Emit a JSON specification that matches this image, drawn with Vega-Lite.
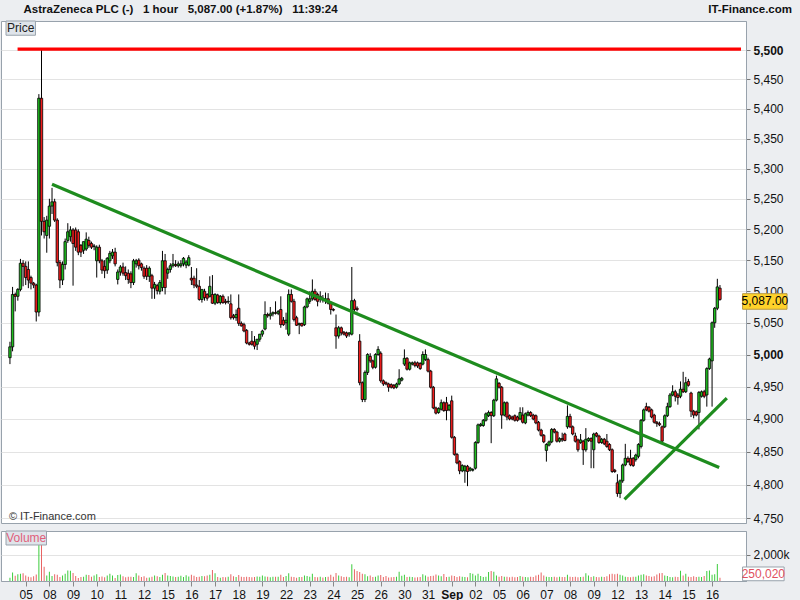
{
"$schema":"https://vega.github.io/schema/vega-lite/v6.json",
"background":"#eceef1",
"padding":{"left":0,"right":0,"top":3,"bottom":0},
"spacing":5,
"title":{"text":"AstraZeneca PLC (-)\u00a0\u00a0\u00a01 hour\u00a0\u00a0\u00a05,087.00 (+1.87%)\u00a0\u00a0\u00a011:39:24\u00a0\u00a0\u00a0\u00a0\u00a0\u00a0\u00a0\u00a0\u00a0\u00a0\u00a0\u00a0\u00a0\u00a0\u00a0\u00a0\u00a0\u00a0\u00a0\u00a0\u00a0\u00a0\u00a0\u00a0\u00a0\u00a0\u00a0\u00a0\u00a0\u00a0\u00a0\u00a0\u00a0\u00a0\u00a0\u00a0\u00a0\u00a0\u00a0\u00a0\u00a0\u00a0\u00a0\u00a0\u00a0\u00a0\u00a0\u00a0\u00a0\u00a0\u00a0\u00a0\u00a0\u00a0\u00a0\u00a0\u00a0\u00a0\u00a0\u00a0\u00a0\u00a0\u00a0\u00a0\u00a0\u00a0\u00a0\u00a0\u00a0\u00a0\u00a0\u00a0\u00a0\u00a0\u00a0\u00a0\u00a0\u00a0\u00a0\u00a0\u00a0\u00a0\u00a0\u00a0\u00a0\u00a0\u00a0\u00a0\u00a0\u00a0\u00a0\u00a0\u00a0\u00a0\u00a0\u00a0\u00a0\u00a0\u00a0\u00a0\u00a0\u00a0\u00a0\u00a0\u00a0\u00a0\u00a0\u00a0\u00a0\u00a0\u00a0\u00a0\u00a0\u00a0\u00a0\u00a0IT-Finance.com","anchor":"start","frame":"bounds","font":"Liberation Sans","fontSize":11.5,"fontWeight":"bold","color":"#111","offset":5,"dx":23},
"datasets":{
"candles":[
{"i":0,"o":4995,"h":5020,"l":4985,"c":5012,"v":250},
{"i":1,"o":5012,"h":5107,"l":5005,"c":5095,"v":650},
{"i":2,"o":5095,"h":5098,"l":5068,"c":5092,"v":400},
{"i":3,"o":5092,"h":5105,"l":5085,"c":5103,"v":520},
{"i":4,"o":5103,"h":5152,"l":5100,"c":5145,"v":560},
{"i":5,"o":5145,"h":5150,"l":5108,"c":5140,"v":600},
{"i":6,"o":5140,"h":5148,"l":5110,"c":5122,"v":420},
{"i":7,"o":5135,"h":5148,"l":5105,"c":5118,"v":330},
{"i":8,"o":5122,"h":5125,"l":5103,"c":5113,"v":280},
{"i":9,"o":5113,"h":5115,"l":5105,"c":5110,"v":360},
{"i":10,"o":5110,"h":5112,"l":5052,"c":5067,"v":500},
{"i":11,"o":5067,"h":5425,"l":5060,"c":5418,"v":3600},
{"i":12,"o":5418,"h":5502,"l":5190,"c":5213,"v":3300},
{"i":13,"o":5213,"h":5220,"l":5185,"c":5196,"v":1100},
{"i":14,"o":5190,"h":5222,"l":5162,"c":5215,"v":420},
{"i":15,"o":5205,"h":5250,"l":5185,"c":5238,"v":720},
{"i":16,"o":5238,"h":5268,"l":5225,"c":5245,"v":380},
{"i":17,"o":5245,"h":5250,"l":5212,"c":5215,"v":520},
{"i":18,"o":5215,"h":5218,"l":5140,"c":5146,"v":480},
{"i":19,"o":5146,"h":5150,"l":5105,"c":5118,"v":300},
{"i":20,"o":5118,"h":5148,"l":5110,"c":5143,"v":430},
{"i":21,"o":5143,"h":5185,"l":5135,"c":5180,"v":560},
{"i":22,"o":5182,"h":5210,"l":5178,"c":5196,"v":800},
{"i":23,"o":5188,"h":5205,"l":5180,"c":5199,"v":780},
{"i":24,"o":5199,"h":5202,"l":5109,"c":5177,"v":620},
{"i":25,"o":5199,"h":5203,"l":5165,"c":5171,"v":380},
{"i":26,"o":5196,"h":5200,"l":5158,"c":5163,"v":240},
{"i":27,"o":5174,"h":5176,"l":5155,"c":5163,"v":300},
{"i":28,"o":5166,"h":5180,"l":5160,"c":5180,"v":320},
{"i":29,"o":5168,"h":5195,"l":5165,"c":5184,"v":480},
{"i":30,"o":5182,"h":5188,"l":5170,"c":5174,"v":460},
{"i":31,"o":5177,"h":5180,"l":5168,"c":5171,"v":330},
{"i":32,"o":5172,"h":5176,"l":5166,"c":5173,"v":420},
{"i":33,"o":5149,"h":5174,"l":5122,"c":5171,"v":520},
{"i":34,"o":5171,"h":5175,"l":5145,"c":5149,"v":300},
{"i":35,"o":5149,"h":5152,"l":5128,"c":5134,"v":340},
{"i":36,"o":5140,"h":5150,"l":5121,"c":5133,"v":280},
{"i":37,"o":5134,"h":5155,"l":5128,"c":5153,"v":430},
{"i":38,"o":5149,"h":5165,"l":5145,"c":5161,"v":560},
{"i":39,"o":5157,"h":5168,"l":5152,"c":5163,"v":420},
{"i":40,"o":5163,"h":5170,"l":5140,"c":5144,"v":240},
{"i":41,"o":5119,"h":5135,"l":5111,"c":5131,"v":460},
{"i":42,"o":5131,"h":5142,"l":5125,"c":5139,"v":500},
{"i":43,"o":5139,"h":5146,"l":5125,"c":5129,"v":360},
{"i":44,"o":5130,"h":5140,"l":5118,"c":5125,"v":290},
{"i":45,"o":5129,"h":5135,"l":5112,"c":5119,"v":330},
{"i":46,"o":5128,"h":5132,"l":5105,"c":5114,"v":330},
{"i":47,"o":5114,"h":5152,"l":5110,"c":5149,"v":300},
{"i":48,"o":5144,"h":5152,"l":5138,"c":5149,"v":600},
{"i":49,"o":5150,"h":5153,"l":5135,"c":5141,"v":420},
{"i":50,"o":5144,"h":5146,"l":5133,"c":5138,"v":310},
{"i":51,"o":5137,"h":5140,"l":5120,"c":5124,"v":370},
{"i":52,"o":5137,"h":5142,"l":5118,"c":5124,"v":250},
{"i":53,"o":5124,"h":5140,"l":5115,"c":5137,"v":260},
{"i":54,"o":5125,"h":5128,"l":5088,"c":5105,"v":330},
{"i":55,"o":5105,"h":5115,"l":5088,"c":5111,"v":420},
{"i":56,"o":5109,"h":5112,"l":5095,"c":5101,"v":360},
{"i":57,"o":5100,"h":5118,"l":5095,"c":5114,"v":300},
{"i":58,"o":5106,"h":5165,"l":5100,"c":5149,"v":490},
{"i":59,"o":5149,"h":5160,"l":5095,"c":5106,"v":620},
{"i":60,"o":5129,"h":5138,"l":5120,"c":5135,"v":430},
{"i":61,"o":5135,"h":5145,"l":5130,"c":5141,"v":390},
{"i":62,"o":5141,"h":5160,"l":5138,"c":5144,"v":350},
{"i":63,"o":5143,"h":5150,"l":5139,"c":5141,"v":300},
{"i":64,"o":5141,"h":5148,"l":5138,"c":5144,"v":330},
{"i":65,"o":5141,"h":5150,"l":5138,"c":5144,"v":400},
{"i":66,"o":5144,"h":5155,"l":5140,"c":5153,"v":300},
{"i":67,"o":5142,"h":5150,"l":5137,"c":5147,"v":440},
{"i":68,"o":5142,"h":5158,"l":5140,"c":5154,"v":350},
{"i":69,"o":5121,"h":5139,"l":5110,"c":5118,"v":480},
{"i":70,"o":5121,"h":5125,"l":5105,"c":5110,"v":400},
{"i":71,"o":5110,"h":5137,"l":5105,"c":5108,"v":300},
{"i":72,"o":5108,"h":5118,"l":5085,"c":5087,"v":330},
{"i":73,"o":5087,"h":5095,"l":5082,"c":5103,"v":390},
{"i":74,"o":5100,"h":5104,"l":5085,"c":5090,"v":360},
{"i":75,"o":5095,"h":5097,"l":5085,"c":5089,"v":420},
{"i":76,"o":5092,"h":5124,"l":5090,"c":5108,"v":480},
{"i":77,"o":5095,"h":5126,"l":5080,"c":5081,"v":850},
{"i":78,"o":5081,"h":5097,"l":5078,"c":5095,"v":600},
{"i":79,"o":5094,"h":5096,"l":5080,"c":5082,"v":300},
{"i":80,"o":5082,"h":5094,"l":5079,"c":5092,"v":250},
{"i":81,"o":5092,"h":5095,"l":5080,"c":5082,"v":300},
{"i":82,"o":5084,"h":5088,"l":5079,"c":5082,"v":280},
{"i":83,"o":5083,"h":5092,"l":5080,"c":5084,"v":330},
{"i":84,"o":5080,"h":5095,"l":5055,"c":5058,"v":520},
{"i":85,"o":5061,"h":5064,"l":5055,"c":5058,"v":360},
{"i":86,"o":5058,"h":5071,"l":5053,"c":5063,"v":300},
{"i":87,"o":5073,"h":5095,"l":5045,"c":5049,"v":460},
{"i":88,"o":5049,"h":5052,"l":5044,"c":5045,"v":330},
{"i":89,"o":5047,"h":5050,"l":5035,"c":5037,"v":300},
{"i":90,"o":5038,"h":5040,"l":5016,"c":5018,"v":320},
{"i":91,"o":5018,"h":5020,"l":5014,"c":5016,"v":300},
{"i":92,"o":5021,"h":5037,"l":5014,"c":5016,"v":280},
{"i":93,"o":5020,"h":5029,"l":5008,"c":5013,"v":300},
{"i":94,"o":5016,"h":5024,"l":5007,"c":5024,"v":350},
{"i":95,"o":5024,"h":5032,"l":5020,"c":5032,"v":330},
{"i":96,"o":5032,"h":5039,"l":5028,"c":5037,"v":420},
{"i":97,"o":5040,"h":5084,"l":5038,"c":5063,"v":350},
{"i":98,"o":5063,"h":5066,"l":5058,"c":5061,"v":330},
{"i":99,"o":5061,"h":5075,"l":5055,"c":5064,"v":290},
{"i":100,"o":5064,"h":5068,"l":5060,"c":5066,"v":320},
{"i":101,"o":5066,"h":5084,"l":5063,"c":5065,"v":330},
{"i":102,"o":5065,"h":5070,"l":5062,"c":5068,"v":320},
{"i":103,"o":5071,"h":5092,"l":5042,"c":5047,"v":480},
{"i":104,"o":5054,"h":5059,"l":5045,"c":5047,"v":300},
{"i":105,"o":5050,"h":5066,"l":5039,"c":5054,"v":380},
{"i":106,"o":5032,"h":5103,"l":5029,"c":5095,"v":600},
{"i":107,"o":5095,"h":5103,"l":5082,"c":5084,"v":330},
{"i":108,"o":5084,"h":5088,"l":5052,"c":5055,"v":300},
{"i":109,"o":5058,"h":5061,"l":5045,"c":5046,"v":250},
{"i":110,"o":5047,"h":5050,"l":5032,"c":5049,"v":300},
{"i":111,"o":5049,"h":5050,"l":5044,"c":5045,"v":300},
{"i":112,"o":5047,"h":5077,"l":5045,"c":5075,"v":420},
{"i":113,"o":5075,"h":5090,"l":5073,"c":5088,"v":380},
{"i":114,"o":5084,"h":5100,"l":5080,"c":5088,"v":330},
{"i":115,"o":5088,"h":5119,"l":5085,"c":5100,"v":550},
{"i":116,"o":5100,"h":5104,"l":5085,"c":5087,"v":300},
{"i":117,"o":5095,"h":5098,"l":5076,"c":5084,"v":280},
{"i":118,"o":5087,"h":5100,"l":5082,"c":5092,"v":320},
{"i":119,"o":5089,"h":5094,"l":5082,"c":5086,"v":260},
{"i":120,"o":5086,"h":5098,"l":5080,"c":5088,"v":300},
{"i":121,"o":5088,"h":5097,"l":5079,"c":5081,"v":330},
{"i":122,"o":5082,"h":5084,"l":5063,"c":5071,"v":480},
{"i":123,"o":5071,"h":5073,"l":5068,"c":5070,"v":320},
{"i":124,"o":5042,"h":5063,"l":5009,"c":5029,"v":620},
{"i":125,"o":5029,"h":5045,"l":5025,"c":5042,"v":420},
{"i":126,"o":5042,"h":5044,"l":5030,"c":5034,"v":360},
{"i":127,"o":5035,"h":5037,"l":5030,"c":5032,"v":300},
{"i":128,"o":5034,"h":5036,"l":5026,"c":5029,"v":330},
{"i":129,"o":5032,"h":5035,"l":5028,"c":5034,"v":280},
{"i":130,"o":5032,"h":5139,"l":5030,"c":5085,"v":1280},
{"i":131,"o":5085,"h":5088,"l":5068,"c":5071,"v":900},
{"i":132,"o":5073,"h":5076,"l":5068,"c":5071,"v":760},
{"i":133,"o":5021,"h":5032,"l":4952,"c":4956,"v":700},
{"i":134,"o":4956,"h":4958,"l":4926,"c":4930,"v":560},
{"i":135,"o":4930,"h":4975,"l":4926,"c":4972,"v":520},
{"i":136,"o":4972,"h":5002,"l":4968,"c":5000,"v":360},
{"i":137,"o":4997,"h":5002,"l":4987,"c":4990,"v":430},
{"i":138,"o":4990,"h":4992,"l":4977,"c":4980,"v":300},
{"i":139,"o":4980,"h":5002,"l":4978,"c":5000,"v":330},
{"i":140,"o":5000,"h":5013,"l":4998,"c":5008,"v":420},
{"i":141,"o":5002,"h":5005,"l":4956,"c":4959,"v":460},
{"i":142,"o":4959,"h":4961,"l":4951,"c":4954,"v":300},
{"i":143,"o":4956,"h":4958,"l":4952,"c":4954,"v":380},
{"i":144,"o":4954,"h":4956,"l":4942,"c":4949,"v":260},
{"i":145,"o":4953,"h":4955,"l":4947,"c":4949,"v":280},
{"i":146,"o":4952,"h":4954,"l":4946,"c":4948,"v":300},
{"i":147,"o":4949,"h":4956,"l":4947,"c":4954,"v":330},
{"i":148,"o":4954,"h":4977,"l":4952,"c":4962,"v":720},
{"i":149,"o":4960,"h":4965,"l":4958,"c":4963,"v":400},
{"i":150,"o":4985,"h":5008,"l":4982,"c":4994,"v":480},
{"i":151,"o":4994,"h":4996,"l":4975,"c":4977,"v":300},
{"i":152,"o":4977,"h":4989,"l":4975,"c":4987,"v":330},
{"i":153,"o":4985,"h":4989,"l":4983,"c":4987,"v":300},
{"i":154,"o":4987,"h":4990,"l":4980,"c":4983,"v":260},
{"i":155,"o":4987,"h":4989,"l":4979,"c":4982,"v":280},
{"i":156,"o":4986,"h":4988,"l":4976,"c":4978,"v":300},
{"i":157,"o":4985,"h":5005,"l":4983,"c":5000,"v":520},
{"i":158,"o":4992,"h":5008,"l":4990,"c":5000,"v":420},
{"i":159,"o":4992,"h":4995,"l":4972,"c":4974,"v":330},
{"i":160,"o":4974,"h":4976,"l":4947,"c":4949,"v":380},
{"i":161,"o":4949,"h":4951,"l":4915,"c":4917,"v":400},
{"i":162,"o":4917,"h":4919,"l":4907,"c":4909,"v":500},
{"i":163,"o":4910,"h":4918,"l":4908,"c":4916,"v":420},
{"i":164,"o":4915,"h":4930,"l":4913,"c":4925,"v":360},
{"i":165,"o":4925,"h":4927,"l":4911,"c":4913,"v":540},
{"i":166,"o":4925,"h":4934,"l":4898,"c":4913,"v":300},
{"i":167,"o":4914,"h":4923,"l":4912,"c":4921,"v":330},
{"i":168,"o":4928,"h":4936,"l":4870,"c":4872,"v":420},
{"i":169,"o":4872,"h":4874,"l":4844,"c":4846,"v":380},
{"i":170,"o":4846,"h":4848,"l":4831,"c":4833,"v":300},
{"i":171,"o":4835,"h":4837,"l":4816,"c":4821,"v":360},
{"i":172,"o":4821,"h":4831,"l":4819,"c":4829,"v":330},
{"i":173,"o":4821,"h":4830,"l":4803,"c":4828,"v":300},
{"i":174,"o":4828,"h":4830,"l":4798,"c":4820,"v":280},
{"i":175,"o":4822,"h":4827,"l":4820,"c":4825,"v":620},
{"i":176,"o":4822,"h":4825,"l":4820,"c":4823,"v":560},
{"i":177,"o":4825,"h":4866,"l":4823,"c":4864,"v":420},
{"i":178,"o":4864,"h":4893,"l":4862,"c":4891,"v":560},
{"i":179,"o":4890,"h":4894,"l":4888,"c":4892,"v":380},
{"i":180,"o":4890,"h":4900,"l":4888,"c":4898,"v":300},
{"i":181,"o":4898,"h":4910,"l":4896,"c":4908,"v":330},
{"i":182,"o":4905,"h":4913,"l":4903,"c":4910,"v":700},
{"i":183,"o":4910,"h":4912,"l":4863,"c":4905,"v":760},
{"i":184,"o":4905,"h":4931,"l":4903,"c":4929,"v":720},
{"i":185,"o":4929,"h":4967,"l":4927,"c":4962,"v":420},
{"i":186,"o":4955,"h":4957,"l":4947,"c":4949,"v":330},
{"i":187,"o":4949,"h":4951,"l":4885,"c":4906,"v":380},
{"i":188,"o":4906,"h":4927,"l":4904,"c":4925,"v":330},
{"i":189,"o":4925,"h":4927,"l":4898,"c":4903,"v":320},
{"i":190,"o":4905,"h":4907,"l":4898,"c":4900,"v":280},
{"i":191,"o":4903,"h":4905,"l":4898,"c":4900,"v":330},
{"i":192,"o":4905,"h":4907,"l":4896,"c":4898,"v":280},
{"i":193,"o":4903,"h":4905,"l":4896,"c":4898,"v":300},
{"i":194,"o":4900,"h":4918,"l":4898,"c":4910,"v":380},
{"i":195,"o":4906,"h":4918,"l":4893,"c":4895,"v":330},
{"i":196,"o":4894,"h":4910,"l":4892,"c":4908,"v":300},
{"i":197,"o":4906,"h":4913,"l":4904,"c":4910,"v":280},
{"i":198,"o":4910,"h":4912,"l":4903,"c":4905,"v":320},
{"i":199,"o":4906,"h":4908,"l":4898,"c":4900,"v":300},
{"i":200,"o":4905,"h":4907,"l":4892,"c":4894,"v":420},
{"i":201,"o":4895,"h":4897,"l":4881,"c":4883,"v":480},
{"i":202,"o":4883,"h":4885,"l":4873,"c":4875,"v":650},
{"i":203,"o":4875,"h":4877,"l":4863,"c":4865,"v":420},
{"i":204,"o":4852,"h":4863,"l":4835,"c":4861,"v":330},
{"i":205,"o":4860,"h":4867,"l":4858,"c":4865,"v":300},
{"i":206,"o":4865,"h":4886,"l":4863,"c":4884,"v":300},
{"i":207,"o":4884,"h":4886,"l":4878,"c":4880,"v":330},
{"i":208,"o":4880,"h":4882,"l":4864,"c":4866,"v":280},
{"i":209,"o":4866,"h":4872,"l":4864,"c":4870,"v":320},
{"i":210,"o":4870,"h":4879,"l":4865,"c":4868,"v":300},
{"i":211,"o":4877,"h":4879,"l":4866,"c":4867,"v":300},
{"i":212,"o":4888,"h":4921,"l":4885,"c":4904,"v":480},
{"i":213,"o":4904,"h":4908,"l":4886,"c":4888,"v":330},
{"i":214,"o":4888,"h":4890,"l":4875,"c":4877,"v":300},
{"i":215,"o":4874,"h":4879,"l":4864,"c":4866,"v":330},
{"i":216,"o":4868,"h":4870,"l":4850,"c":4853,"v":280},
{"i":217,"o":4864,"h":4877,"l":4862,"c":4868,"v":300},
{"i":218,"o":4866,"h":4868,"l":4830,"c":4853,"v":330},
{"i":219,"o":4853,"h":4886,"l":4850,"c":4869,"v":600},
{"i":220,"o":4867,"h":4872,"l":4865,"c":4870,"v":420},
{"i":221,"o":4870,"h":4872,"l":4825,"c":4866,"v":300},
{"i":222,"o":4853,"h":4879,"l":4825,"c":4877,"v":360},
{"i":223,"o":4878,"h":4880,"l":4872,"c":4874,"v":300},
{"i":224,"o":4874,"h":4876,"l":4862,"c":4864,"v":280},
{"i":225,"o":4864,"h":4871,"l":4862,"c":4869,"v":320},
{"i":226,"o":4869,"h":4871,"l":4860,"c":4862,"v":300},
{"i":227,"o":4866,"h":4877,"l":4856,"c":4858,"v":360},
{"i":228,"o":4861,"h":4863,"l":4851,"c":4853,"v":520},
{"i":229,"o":4853,"h":4855,"l":4818,"c":4820,"v":560},
{"i":230,"o":4822,"h":4824,"l":4818,"c":4820,"v":520},
{"i":231,"o":4803,"h":4816,"l":4782,"c":4787,"v":560},
{"i":232,"o":4787,"h":4808,"l":4780,"c":4806,"v":480},
{"i":233,"o":4806,"h":4832,"l":4803,"c":4830,"v":420},
{"i":234,"o":4830,"h":4862,"l":4828,"c":4840,"v":320},
{"i":235,"o":4840,"h":4843,"l":4833,"c":4835,"v":300},
{"i":236,"o":4840,"h":4853,"l":4828,"c":4830,"v":280},
{"i":237,"o":4840,"h":4842,"l":4827,"c":4829,"v":330},
{"i":238,"o":4838,"h":4847,"l":4835,"c":4845,"v":330},
{"i":239,"o":4843,"h":4863,"l":4840,"c":4861,"v":430},
{"i":240,"o":4858,"h":4900,"l":4855,"c":4898,"v":480},
{"i":241,"o":4898,"h":4916,"l":4896,"c":4914,"v":520},
{"i":242,"o":4919,"h":4925,"l":4912,"c":4914,"v":430},
{"i":243,"o":4918,"h":4920,"l":4910,"c":4912,"v":380},
{"i":244,"o":4914,"h":4916,"l":4901,"c":4903,"v":330},
{"i":245,"o":4906,"h":4908,"l":4893,"c":4895,"v":360},
{"i":246,"o":4895,"h":4897,"l":4888,"c":4893,"v":500},
{"i":247,"o":4893,"h":4896,"l":4889,"c":4891,"v":600},
{"i":248,"o":4888,"h":4890,"l":4865,"c":4866,"v":620},
{"i":249,"o":4888,"h":4907,"l":4886,"c":4905,"v":420},
{"i":250,"o":4905,"h":4925,"l":4903,"c":4919,"v":380},
{"i":251,"o":4919,"h":4940,"l":4917,"c":4937,"v":300},
{"i":252,"o":4937,"h":4952,"l":4935,"c":4942,"v":280},
{"i":253,"o":4942,"h":4945,"l":4927,"c":4935,"v":330},
{"i":254,"o":4937,"h":4940,"l":4922,"c":4933,"v":300},
{"i":255,"o":4935,"h":4958,"l":4932,"c":4946,"v":780},
{"i":256,"o":4946,"h":4973,"l":4940,"c":4942,"v":420},
{"i":257,"o":4942,"h":4965,"l":4940,"c":4956,"v":560},
{"i":258,"o":4958,"h":4962,"l":4950,"c":4952,"v":330},
{"i":259,"o":4940,"h":4942,"l":4903,"c":4912,"v":300},
{"i":260,"o":4912,"h":4914,"l":4901,"c":4906,"v":360},
{"i":261,"o":4911,"h":4913,"l":4904,"c":4906,"v":300},
{"i":262,"o":4910,"h":4943,"l":4884,"c":4941,"v":330},
{"i":263,"o":4935,"h":4944,"l":4933,"c":4942,"v":300},
{"i":264,"o":4942,"h":4945,"l":4932,"c":4935,"v":380},
{"i":265,"o":4937,"h":4980,"l":4919,"c":4978,"v":760},
{"i":266,"o":4978,"h":4995,"l":4976,"c":4993,"v":800},
{"i":267,"o":4990,"h":5052,"l":4919,"c":5050,"v":480},
{"i":268,"o":5050,"h":5075,"l":5042,"c":5073,"v":520},
{"i":269,"o":5073,"h":5120,"l":5070,"c":5107,"v":1300},
{"i":270,"o":5105,"h":5110,"l":5085,"c":5087,"v":250}
],
"lines":[
{"id":"res","i":2.9,"p":5502},{"id":"res","i":278,"p":5502},
{"id":"down","i":16.0,"p":5274},{"id":"down","i":269.7,"p":4826},
{"id":"up","i":233.7,"p":4778},{"id":"up","i":272.6,"p":4932}
]
},
"vconcat":[
{
"width":745,"height":502,
"data":{"name":"candles"},
"layer":[
{"mark":{"type":"rule","color":"#000000","strokeWidth":1},
 "encoding":{
  "x":{"field":"i","type":"quantitative","scale":{"domain":[-1.5,278],"nice":false,"zero":false},"axis":null},
  "y":{"field":"l","type":"quantitative","scale":{"type":"log","domain":[4742.9,5550.7],"nice":false,"zero":false},
   "axis":{"orient":"right","title":null,"values":[4750,4800,4850,4900,4950,5000,5050,5100,5150,5200,5250,5300,5350,5400,5450,5500],"tickCount":40,"format":",","grid":true,"gridColor":"#e3e3e3","tickColor":"#777","tickSize":4,"labelPadding":3,"labelFontSize":12,"labelColor":"#111","labelFont":"Liberation Sans","domainColor":"#98a2ac","labelOverlap":false,"labelFontWeight":{"condition":{"test":"datum.value == 5000 || datum.value == 5500","value":"bold"},"value":"normal"},"minExtent":55,"maxExtent":55}},
  "y2":{"field":"h"}}},
{"mark":{"type":"bar","width":2.4,"stroke":"#000000","strokeWidth":0.8},
 "encoding":{
  "x":{"field":"i","type":"quantitative"},
  "y":{"field":"o","type":"quantitative"},
  "y2":{"field":"c"},
  "fill":{"condition":{"test":"datum.c >= datum.o","value":"#1fbf1f"},"value":"#f01c1c"}}},
{"data":{"name":"lines"},
 "mark":{"type":"line","strokeWidth":3.2,"strokeCap":"butt"},
 "encoding":{
  "x":{"field":"i","type":"quantitative"},
  "y":{"field":"p","type":"quantitative"},
  "detail":{"field":"id"},
  "color":{"field":"id","type":"nominal","scale":{"domain":["res","down","up"],"range":["#ff0000","#1e8c1e","#1e8c1e"]},"legend":null}}},
{"data":{"values":[{"t":"Price"}]},
 "mark":{"type":"rect","fill":"#dfe4ea","stroke":"#98a2ac","strokeWidth":1},
 "encoding":{"x":{"datum":-1.5,"type":"quantitative"},"x2":{"datum":9.7},"y":{"datum":5550.7,"type":"quantitative"},"y2":{"datum":5526}}},
{"data":{"values":[{"t":"Price"}]},
 "mark":{"type":"text","fontSize":12,"color":"#222","align":"center","baseline":"middle","font":"Liberation Sans"},
 "encoding":{"x":{"datum":4.1,"type":"quantitative"},"y":{"datum":5538,"type":"quantitative"},"text":{"field":"t"}}},
{"data":{"values":[{"t":"© IT-Finance.com"}]},
 "mark":{"type":"text","fontSize":11,"color":"#333","align":"left","baseline":"middle","font":"Liberation Sans"},
 "encoding":{"x":{"datum":-0.4,"type":"quantitative"},"y":{"datum":4752,"type":"quantitative"},"text":{"field":"t"}}},
{"data":{"values":[{"t":"5,087.00"}]},
 "mark":{"type":"rect","fill":"#ffd22a","stroke":"#b89a40","strokeWidth":1},
 "encoding":{"x":{"datum":278.6,"type":"quantitative"},"x2":{"datum":295.5},"y":{"datum":5096.2,"type":"quantitative"},"y2":{"datum":5071.4}}},
{"data":{"values":[{"t":"5,087.00"}]},
 "mark":{"type":"text","fontSize":12,"color":"#000","align":"center","baseline":"middle","font":"Liberation Sans"},
 "encoding":{"x":{"datum":287.1,"type":"quantitative"},"y":{"datum":5083.8,"type":"quantitative"},"text":{"field":"t"}}}
]
},
{
"width":745,"height":50,
"data":{"name":"candles"},
"layer":[
{"mark":{"type":"bar","width":1},
 "encoding":{
  "x":{"field":"i","type":"quantitative","scale":{"domain":[-1.5,278],"nice":false,"zero":false},
   "axis":{"title":null,"values":[6,15,24,33,42,51,60,69,78,87,96,105,114,123,132,141,150,159,168,177,186,195,204,213,222,231,240,249,258,267],"tickCount":40,
    "labelExpr":"['05','08','09','10','11','12','15','16','17','18','19','22','23','24','25','26','30','31','Sep','02','05','06','07','08','09','12','13','14','15','16'][round((datum.value-6)/9)]",
    "labelFontWeight":{"condition":{"test":"datum.value == 168","value":"bold"},"value":"normal"},
    "labelFontSize":12,"labelColor":"#111","labelFont":"Liberation Sans","tickSize":5,"tickColor":"#888","domainColor":"#98a2ac","grid":false,"labelPadding":3,"labelOverlap":false,"labelFlush":false,"labelBound":false,"minExtent":23,"maxExtent":23}},
  "y":{"field":"v","type":"quantitative","scale":{"domain":[0,3846],"nice":false},
   "axis":{"orient":"right","title":null,"values":[2000],"labelExpr":"'2,000k'","grid":true,"gridColor":"#e3e3e3","tickColor":"#777","tickSize":4,"labelPadding":3,"labelFontSize":12,"labelColor":"#111","labelFont":"Liberation Sans","domainColor":"#98a2ac","minExtent":55,"maxExtent":55}},
  "fill":{"condition":{"test":"datum.c >= datum.o","value":"#3dcc3d"},"value":"#e86464"}}},
{"data":{"values":[{"t":"Volume"}]},
 "mark":{"type":"rect","fill":"#dfe4ea","stroke":"#98a2ac","strokeWidth":1},
 "encoding":{"x":{"datum":-1.5,"type":"quantitative"},"x2":{"datum":13.9},"y":{"datum":3846,"type":"quantitative"},"y2":{"datum":2770}}},
{"data":{"values":[{"t":"Volume"}]},
 "mark":{"type":"text","fontSize":12,"color":"#e0607a","align":"center","baseline":"middle","font":"Liberation Sans"},
 "encoding":{"x":{"datum":6.2,"type":"quantitative"},"y":{"datum":3308,"type":"quantitative"},"text":{"field":"t"}}},
{"data":{"values":[{"t":"250,020"}]},
 "mark":{"type":"rect","fill":"#ffffff","stroke":"#98a2ac","strokeWidth":1},
 "encoding":{"x":{"datum":278.6,"type":"quantitative"},"x2":{"datum":294.4},"y":{"datum":1077,"type":"quantitative"},"y2":{"datum":20}}},
{"data":{"values":[{"t":"250,020"}]},
 "mark":{"type":"text","fontSize":12,"color":"#e05060","align":"center","baseline":"middle","font":"Liberation Sans"},
 "encoding":{"x":{"datum":286.5,"type":"quantitative"},"y":{"datum":540,"type":"quantitative"},"text":{"field":"t"}}}
]
}
],
"config":{"font":"Liberation Sans","view":{"fill":"#ffffff","stroke":"#98a2ac","strokeWidth":1},"axis":{"labelOverlap":false}}
}
